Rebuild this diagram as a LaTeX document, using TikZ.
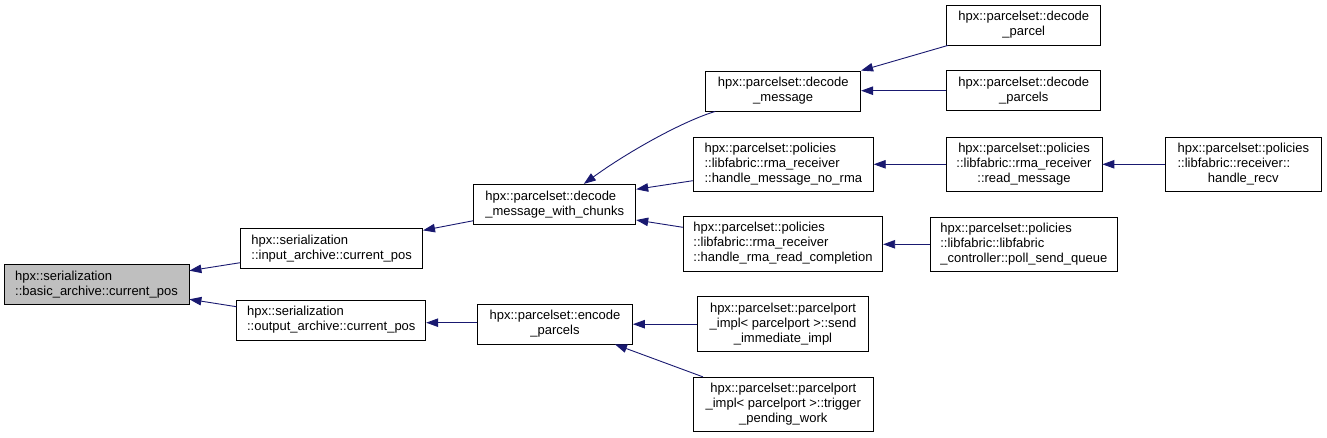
\documentclass[tikz,border=0pt]{standalone}
\usepackage{fontspec}
\setmainfont{Liberation Sans}
\usetikzlibrary{arrows.meta,calc}
\definecolor{edgeblue}{HTML}{191970}
\definecolor{boxgray}{HTML}{BFBFBF}
\tikzset{
  box/.style={draw=black, line width=0.8pt, inner sep=0pt, fill=white,
    font=\fontsize{13}{15}\selectfont},
  sz/.style 2 args={minimum width=#1pt, minimum height=#2pt},
  arr/.style={draw=edgeblue, line width=0.9pt, -{Triangle[length=12pt,width=8.5pt]}},
}
\begin{document}
\begin{tikzpicture}[x=1pt,y=-1pt]
\useasboundingbox (0,0) rectangle (1327,438);
% nodes
\node[box, sz={185}{40}, fill=boxgray, align=left] (A) at (96.5,284.5)
  {hpx::serialization\\::basic\_archive::current\_pos};
\node[box, sz={182}{40}, align=left] (B) at (331.6,248.3)
  {hpx::serialization\\::input\_archive::current\_pos};
\node[box, sz={189}{40}, align=left] (C) at (331.3,320)
  {hpx::serialization\\::output\_archive::current\_pos};
\node[box, sz={162}{40}, align=left] (D) at (554.8,204.3)
  {hpx::parcelset::decode\\\_message\_with\_chunks};
\node[box, sz={155}{40}, align=center] (E) at (555,324)
  {hpx::parcelset::encode\\\_parcels};
\node[box, sz={155}{40}, align=center] (F) at (783.2,91)
  {hpx::parcelset::decode\\\_message};
\node[box, sz={180}{54.5}, align=left] (G) at (783.3,164.5)
  {hpx::parcelset::policies\\::libfabric::rma\_receiver\\::handle\_message\_no\_rma};
\node[box, sz={199.5}{55}, align=left] (H) at (783,243.5)
  {hpx::parcelset::policies\\::libfabric::rma\_receiver\\::handle\_rma\_read\_completion};
\node[box, sz={171}{55}, align=center] (I) at (783,324.2)
  {hpx::parcelset::parcelport\\\_impl< parcelport >::send\\\_immediate\_impl};
\node[box, sz={180}{54.5}, align=center] (J) at (783.3,404.5)
  {hpx::parcelset::parcelport\\\_impl< parcelport >::trigger\\\_pending\_work};
\node[box, sz={154}{40}, align=center] (K) at (1023.8,25)
  {hpx::parcelset::decode\\\_parcel};
\node[box, sz={154}{40}, align=center] (L) at (1023.8,90.7)
  {hpx::parcelset::decode\\\_parcels};
\node[box, sz={156}{54.7}, align=center] (M) at (1024,164.3)
  {hpx::parcelset::policies\\::libfabric::rma\_receiver\\::read\_message};
\node[box, sz={156.7}{54.7}] (N) at (1243.3,164.3)
  {\begin{tabular}{@{}l@{}}hpx::parcelset::policies\\::libfabric::receiver::\\\multicolumn{1}{@{}c@{}}{handle\_recv}\end{tabular}};
\node[box, sz={186.3}{54.7}, align=left] (O) at (1023.8,244.3)
  {hpx::parcelset::policies\\::libfabric::libfabric\\\_controller::poll\_send\_queue};
% edges
\draw[arr] ($(B.west)+(0,14.4)$) -- ($(A.east)+(0,-13.8)$);
\draw[arr] ($(C.west)+(0,-13.3)$) -- ($(A.east)+(0,14.8)$);
\draw[arr] ($(D.west)+(0,16.4)$) -- ($(B.north east)+(0,2.5)$);
\draw[arr] ($(E.west)+(0,-1.3)$) -- ($(C.east)+(0,2.7)$);
\draw[arr] ($(F.south west)+(10,0)$) .. controls ($(F.south west)+(-23,10)$) and ($(D.north)+(73,-32)$) .. ($(D.north)+(29,0)$);
\draw[arr] ($(G.west)+(0,16.2)$) -- ($(D.east)+(0,-15)$);
\draw[arr] ($(H.west)+(0,-16.2)$) -- ($(D.east)+(0,15.7)$);
\draw[arr] (I.west) -- (E.east |- I.west);
\draw[arr] ($(J.north west)+(10,0)$) -- ($(E.south)+(60,0)$);
\draw[arr] ($(K.south west)+(1.6,0)$) -- (F.north east);
\draw[arr] (L.west) -- (F.east |- L.west);
\draw[arr] (M.west) -- (G.east |- M.west);
\draw[arr] (N.west) -- (M.east |- N.west);
\draw[arr] (O.west) -- (H.east |- O.west);
\end{tikzpicture}
\end{document}
